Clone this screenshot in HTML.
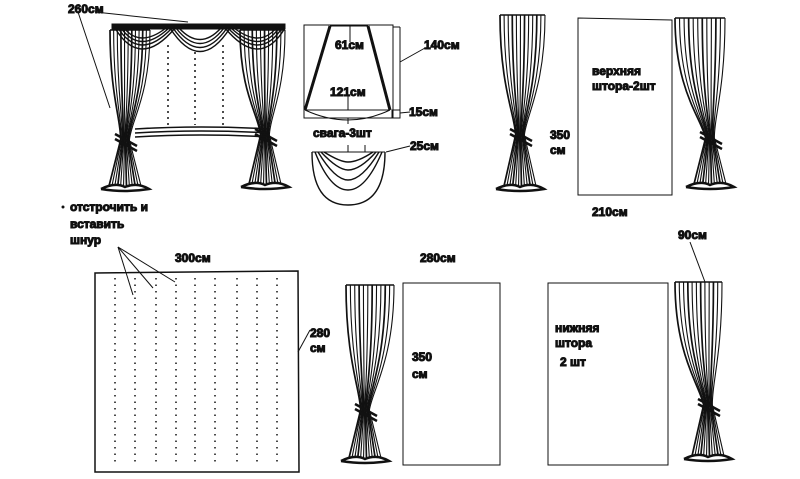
<!DOCTYPE html>
<html><head><meta charset="utf-8"><style>
html,body{margin:0;padding:0;background:#fff;}
svg{display:block;}
text{font-family:"Liberation Sans",sans-serif;font-weight:bold;font-size:12px;fill:#111;}
</style></head><body>
<svg id="s" width="800" height="479" viewBox="0 0 800 479" xmlns="http://www.w3.org/2000/svg" stroke="#111" fill="none" stroke-width="1">
<g id="g"></g>
<rect x="112" y="24" width="173" height="5" fill="#111"/>
<g stroke-width="1.4">
<path d="M115 28 Q140 70 175 28"/><path d="M118 28 Q140 62 172 28"/><path d="M121 28 Q140 55 169 28"/><path d="M124 28 Q140 48 166 28"/>
<path d="M170 28 Q200 75 230 28"/><path d="M173 28 Q200 67 227 28"/><path d="M176 28 Q200 59 224 28"/><path d="M179 28 Q200 51 221 28"/>
<path d="M225 28 Q260 70 285 28"/><path d="M228 28 Q260 62 282 28"/><path d="M231 28 Q260 55 279 28"/><path d="M234 28 Q260 48 276 28"/>
</g>
<g stroke-dasharray="2 4" stroke-width="1.5"><line x1="168" y1="45" x2="168" y2="125"/><line x1="195" y1="52" x2="195" y2="125"/><line x1="223" y1="45" x2="223" y2="125"/></g>
<path d="M135 129 Q200 125 270 129 M135 133 Q200 129 270 133 M135 137 Q200 133 270 137" stroke-width="1.5"/>
<line x1="78" y1="12" x2="110" y2="108"/><line x1="95" y1="12" x2="188" y2="22"/>
<text x="68" y="13">260см</text>
<rect x="304" y="25" width="89" height="93"/>
<path d="M330 26 L305 110 M368 26 L390 110" stroke-width="3"/>
<line x1="330" y1="26" x2="368" y2="26"/>
<path d="M305 110 Q348 130 390 110"/><line x1="305" y1="110" x2="390" y2="110"/>
<line x1="393" y1="27" x2="400" y2="27"/><line x1="400" y1="27" x2="400" y2="118"/>
<line x1="350" y1="26" x2="350" y2="42"/><line x1="348" y1="95" x2="348" y2="110"/>
<rect x="392" y="110" width="8" height="8"/>
<line x1="400" y1="62" x2="425" y2="48"/><line x1="400" y1="113" x2="410" y2="112"/><line x1="386" y1="152" x2="410" y2="146"/>
<text x="335" y="49">61см</text><text x="330" y="96">121см</text><text x="424" y="49">140см</text><text x="409" y="116">15см</text>
<text x="313" y="137">свага-3шт</text><text x="410" y="150">25см</text>
<line x1="348" y1="118" x2="348" y2="124"/>
<line x1="312" y1="152" x2="385" y2="152"/><line x1="348" y1="145" x2="348" y2="152"/><line x1="365" y1="145" x2="365" y2="152"/>
<g stroke-width="1.4"><path d="M312 152 Q312 205 348 205 Q385 205 385 152"/><path d="M315 152 Q330 190 348 190 Q366 190 382 152"/><path d="M318 152 Q335 180 348 180 Q362 180 379 152"/><path d="M321 152 Q338 170 348 170 Q360 170 376 152"/><path d="M324 152 Q340 162 348 162 Q358 162 373 152"/></g>
<path d="M578 18 L672 20 L672 195 L578 195Z"/>
<text x="592" y="75">верхняя</text><text x="592" y="90">штора-2шт</text>
<text x="550" y="139">350</text><text x="550" y="154">см</text><text x="592" y="216">210см</text>
<circle cx="63" cy="207" r="1" fill="#111"/>
<text x="70" y="211">отстрочить и</text><text x="70" y="228">вставить</text><text x="70" y="244">шнур</text>
<text x="175" y="262">300см</text>
<path d="M95 273 L298 271 L299 472 L95 472Z" stroke-width="1.5"/>
<line x1="118" y1="247" x2="133" y2="295"/><line x1="118" y1="247" x2="153" y2="288"/><line x1="118" y1="247" x2="175" y2="282"/>
<line x1="298" y1="352" x2="310" y2="330"/>
<text x="310" y="337">280</text><text x="310" y="352">см</text>
<g id="dots" stroke-dasharray="1.5 5" stroke-width="1.5"></g>
<text x="420" y="262">280см</text>
<rect x="403" y="283" width="97" height="182"/>
<text x="412" y="361">350</text><text x="412" y="378">см</text>
<rect x="548" y="283" width="120" height="182"/>
<text x="555" y="332">нижняя</text><text x="555" y="347">штора</text><text x="560" y="366">2 шт</text>
<text x="678" y="239">90см</text><line x1="690" y1="242" x2="705" y2="282"/>
</svg>
<script>
var g=document.getElementById('g'),NS='http://www.w3.org/2000/svg';
function P(d,w){var p=document.createElementNS(NS,'path');p.setAttribute('d',d);p.setAttribute('stroke-width',w||1);g.appendChild(p);}
function curtain(x0,x1,y0,tx,ty,y1){
 var n=11;
 for(var i=0;i<=n;i++){var x=x0+(x1-x0)*i/n;var bx=tx-16+32*i/n;
  P('M'+x+' '+y0+' C'+x+' '+(y0+(ty-y0)*0.6)+' '+(tx+(x-tx)*0.25)+' '+(ty-20)+' '+(tx+(i-n/2)*0.8)+' '+ty+' L'+bx+' '+(y1-4),i%3==0?1.7:1.1);}
 P('M'+x0+' '+y0+' L'+x1+' '+y0,1.5);
 P('M'+(tx-10)+' '+(ty-6)+' L'+(tx+12)+' '+(ty+6)+' M'+(tx-10)+' '+(ty-1)+' L'+(tx+12)+' '+(ty+11),2.5);
 P('M'+(tx-24)+' '+(y1-1)+' Q'+(tx-10)+' '+(y1-8)+' '+tx+' '+(y1-3)+' Q'+(tx+12)+' '+(y1-8)+' '+(tx+24)+' '+(y1-1)+' Q'+tx+' '+(y1+3)+' '+(tx-24)+' '+(y1-1),2.5);
}
curtain(110,150,30,125,140,190);curtain(240,285,30,265,135,188);
curtain(500,545,15,520,135,190);curtain(675,725,18,710,138,188);
curtain(346,394,285,365,410,462);curtain(675,722,282,708,405,460);
var d=document.getElementById('dots');
[115,135,156,176,195,215,237,257,277].forEach(function(x){var l=document.createElementNS(NS,'line');l.setAttribute('x1',x);l.setAttribute('x2',x);l.setAttribute('y1',278);l.setAttribute('y2',466);d.appendChild(l);});
</script>
</body></html>
